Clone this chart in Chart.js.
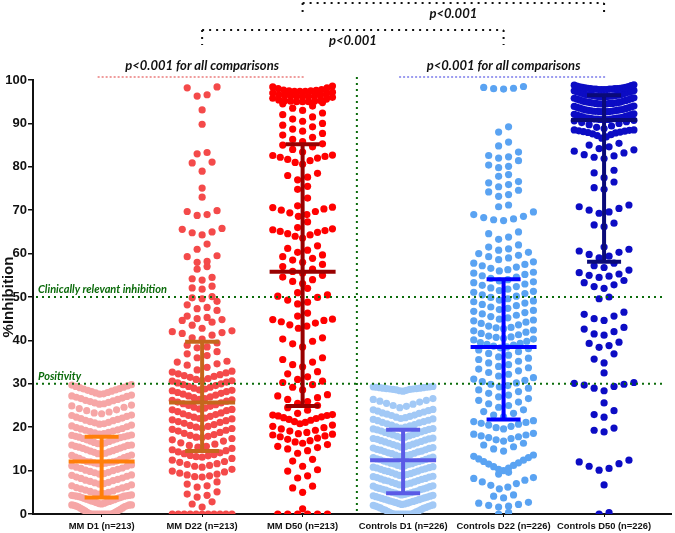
<!DOCTYPE html>
<html lang="en">
<head>
<meta charset="UTF-8" />
<title>%Inhibition by group</title>
<script src="https://cdn.jsdelivr.net/npm/chart.js"></script>
<style>
  html, body { margin: 0; padding: 0; background: #fff; }
  #chart { display: block; }
</style>
</head>
<body>
<canvas id="chart" width="675" height="533"></canvas>
<script>
const categories = [
  "MM D1 (n=213)", "MM D22 (n=213)", "MM D50 (n=213)",
  "Controls D1 (n=226)", "Controls D22 (n=226)", "Controls D50 (n=226)"
];
// median and interquartile range
const medians = [12.1, 25.7, 55.8, 12.4, 38.5, 90.8];
const q1 = [3.8, 14.5, 24.9, 4.8, 21.8, 58.1];
const q3 = [17.8, 39.7, 85.2, 19.4, 54.1, 96.5];

// each group: rows of the swarm, values in %inhibition
const mmD1 = [
  [0,0,0,0,0,0,0,0,0,0,0.1,0.2,0.4,0.5,0.7,0.8,1.0,1.1,1.3,1.4,1.6,1.7,1.8,1.9,2.0,2.1,2.1,2.1],
  [2.3,2.4,2.5,2.6,2.7,2.8,2.9,3.0,3.1,3.2,3.3,3.4,3.5,3.6,3.7,3.8,3.9,4.0,4.1,4.1,4.2,4.2,4.3,4.3,4.4],
  [4.6,4.7,4.9,5.0,5.2,5.3,5.5,5.7,5.8,6.0,6.1,6.3,6.5,6.7],
  [6.9,7.0,7.2,7.3,7.5,7.7,7.8,8.0,8.2,8.3,8.5,8.7,8.9,9.0],
  [9.2,9.3,9.5,9.6,9.8,10.0,10.1,10.3,10.5,10.6,10.8,11.0,11.1,11.3],
  [11.5,11.6,11.7,11.8,11.9,12.0,12.0,12.1,12.2,12.4,12.6,12.8,13.0,13.1,13.3,13.5,13.6],
  [13.8,13.9,14.0,14.2,14.3,14.5,14.6,14.8,14.9,15.1,15.2,15.4,15.5,15.6,15.8,15.9,15.9],
  [16.1,16.2,16.4,16.5,16.7,16.8,17.0,17.1,17.3,17.4,17.6,17.7,17.8,17.9,18.0,18.1,18.2],
  [18.4,18.5,18.7,18.8,19.0,19.1,19.3,19.4,19.6,19.7,19.9,20.1,20.3,20.5],
  [20.7,20.8,21.0,21.1,21.3,21.5,21.6,21.8,22.0,22.1,22.3,22.5,22.7,22.8],
  [23.1,23.3,23.5,23.8,24.0,24.3,24.6,24.9,25.1],
  [25.3,25.4,25.6,25.7,25.9,26.1,26.2,26.4,26.6,26.7,26.9,27.1,27.2,27.4],
  [27.6,27.7,27.9,28.0,28.2,28.3,28.5,28.6,28.8,28.9,29.1,29.2,29.4,29.5,29.7,29.8]
];
const mmD22 = [
  [0,0,0,0,0,0,0,0,0,0,0],
  [1.6,2.3,2.8],
  [3.9,4.3,4.6,5.1],
  [6.2,6.5,6.9,7.4],
  [8.5,8.6,8.8,9.0,9.2,9.4,9.7,9.9,10.3],
  [10.8,11.0,11.2,11.4,11.6,11.9,12.1,12.4,12.8],
  [13.1,13.2,13.4,13.5,13.7,13.9,14.1,14.3,14.6,14.8,15.1],
  [15.4,15.6,15.8,16.1,16.4,16.8,17.1,17.4],
  [17.6,17.7,17.9,18.1,18.3,18.6,18.8,19.1,19.3,19.5,19.7],
  [19.8,20.0,20.2,20.4,20.6,20.9,21.1,21.3,21.5,21.7,21.9],
  [22.0,22.1,22.3,22.5,22.7,22.9,23.1,23.3,23.6,23.8,24.0,24.1],
  [24.2,24.4,24.6,24.8,25.0,25.2,25.4,25.6,25.8,26.0,26.2,26.3],
  [26.4,26.6,26.8,27.0,27.2,27.4,27.6,27.8,28.0,28.2,28.4,28.5],
  [28.6,28.8,29.0,29.2,29.4,29.6,29.8,30.0,30.2,30.4,30.6,30.7],
  [30.8,31.0,31.2,31.5,31.7,31.9,32.1,32.3,32.5,32.7,32.9],
  [33.2,33.8,34.3,34.6,35.0,35.2],
  [36.0,36.5,36.9,37.4],
  [38.3,38.5,38.9,39.4],
  [40.3,40.6,41.2,41.6,41.8,42.0,42.2],
  [42.8,43.5,44.2,44.6,44.8],
  [45.0,45.3,45.6,46.9],
  [47.3,47.6,48.2,49.0],
  [49.6,49.8,50.1],
  [51.8,52.1,52.5],
  [53.9,54.2,54.5],
  [56.4,57.0],
  [58.0,58.2,59.3,59.5],
  [61.0,62.2],
  [64.3,64.8,65.0,65.6,65.8],
  [68.8,69.0,69.7,69.9],
  [73.0],
  [75.1],
  [79.0,80.9,81.1],
  [83.0,83.3],
  [89.8],
  [93.1],
  [96.3,96.6,98.2,98.4]
];
const mmD50 = [
  [0,0,0,0,0,0],
  [1.2],
  [5.0,6.0,6.4],
  [8.3,8.8,9.9,10.2],
  [11.0,12.2,12.6],
  [14.0,14.6,15.0,15.3,15.6,16.0],
  [16.3,16.6,16.9,17.2,17.5,17.8,18.0,18.2,18.4],
  [18.5,18.8,19.1,19.3,19.6,19.9,20.2,20.5],
  [20.8,21.1,21.3,21.6,21.8,22.0,22.2,22.4,22.6,22.7,22.8,22.9],
  [23.2,23.9,24.5,25.0],
  [25.5,25.9,26.4,26.8,27.2,27.5],
  [28.6,29.2,29.8,30.3,30.6],
  [31.0,31.6,32.3,32.8],
  [33.9,34.4,35.0,35.6,36.0],
  [38.5,39.2,39.8,40.3,40.6],
  [42.8,43.3,43.6,44.0,44.3,44.6,44.8,44.9],
  [45.6,46.3],
  [48.4,48.8,49.3,49.9,50.2,50.5],
  [51.0,52.0],
  [53.1,53.6,54.0,54.6,55.0],
  [55.5,55.9,56.4,57.0,57.5],
  [58.0,58.5,58.9,59.3,59.7],
  [60.3,60.8,61.2,61.8],
  [63.6,64.0,64.3,64.6,64.9,65.1,65.3,65.5,65.7],
  [66.0,67.3],
  [68.6,69.0,69.4,69.7,70.0,70.3,70.6,70.7],
  [71.0,72.8],
  [74.8,75.5],
  [77.0,77.6,78.0,78.5],
  [80.6,81.0,81.4,81.7,82.0,82.2,82.4,82.6,82.7],
  [83.4,84.0,84.6,85.0,85.3],
  [85.8,86.3,86.8,87.3,87.7],
  [88.2,88.7,89.2,89.6,90.0],
  [90.5,91.0,91.5,92.0,92.4],
  [93.0,93.5,94.0,94.5,94.8],
  [95.0,95.0,95.0,95.1,95.1,95.2,95.3,95.4,95.6,95.8,96.0],
  [96.2,96.2,96.2,96.3,96.3,96.4,96.5,96.6,96.8,97.0,97.2],
  [97.4,97.4,97.4,97.5,97.5,97.6,97.7,97.8,98.0,98.2,98.4,98.6]
];
const ctD1 = [
  [0,0,0,0,0,0,0,0,0.1,0.2,0.3,0.5,0.6,0.7,0.9,1.0,1.1,1.3,1.4,1.5,1.6,1.7,1.8,1.9,2.0,2.1],
  [2.2,2.3,2.4,2.5,2.6,2.7,2.8,2.9,3.0,3.1,3.2,3.3,3.4,3.5,3.6,3.7,3.8,3.9,4.0,4.1,4.2,4.3],
  [4.4,4.5,4.6,4.7,4.8,4.9,5.0,5.1,5.2,5.3,5.5,5.6,5.7,5.8,5.9,6.0,6.1,6.3,6.4,6.5],
  [6.6,6.7,6.9,7.0,7.1,7.3,7.4,7.6,7.7,7.8,8.0,8.1,8.2,8.4,8.5,8.6,8.7],
  [8.8,8.9,9.1,9.2,9.3,9.5,9.6,9.8,9.9,10.0,10.2,10.3,10.4,10.6,10.7,10.8,10.9],
  [11.0,11.1,11.2,11.4,11.5,11.6,11.7,11.9,12.0,12.1,12.2,12.3,12.5,12.6,12.7,12.9,13.0,13.1],
  [13.2,13.3,13.5,13.6,13.7,13.9,14.0,14.1,14.3,14.4,14.5,14.7,14.8,14.9,15.1,15.2,15.3],
  [15.4,15.5,15.7,15.8,16.0,16.1,16.3,16.4,16.6,16.7,16.9,17.0,17.2,17.3,17.4,17.5],
  [17.6,17.7,17.9,18.0,18.2,18.3,18.5,18.6,18.8,18.9,19.1,19.2,19.4,19.5,19.6,19.7],
  [19.8,20.0,20.1,20.3,20.5,20.6,20.8,21.0,21.1,21.3,21.5,21.6,21.8,21.9],
  [22.0,22.2,22.3,22.5,22.7,22.8,23.0,23.2,23.3,23.5,23.7,23.8,24.0,24.1],
  [24.5,24.8,25.0,25.3,25.5,25.8,26.0,26.2,26.4,26.6],
  [28.3,28.4,28.5,28.6,28.7,28.7,28.8,28.8,28.9,28.9,29.0,29.0,29.1,29.1,29.2,29.2,29.3,29.3,29.4]
];
const ctD22 = [
  [0,0.4],
  [1.6,1.8,2.0,2.2,2.5,2.7],
  [3.7,4.1,4.4],
  [5.8,6.2,6.6,7.0,7.4,7.8,8.2,8.4],
  [9.2,9.6],
  [10.0,10.3,10.6,10.9,11.2,11.5,11.8,12.1,12.4,12.7,13.0,13.3,13.6],
  [14.5,15.0,15.5,15.9,16.3],
  [16.8,17.1,17.4,17.6,17.8,18.0,18.2,18.4,18.6],
  [19.6,19.9,20.2,20.5,20.7,20.9,21.1,21.3,21.5],
  [22.4,22.8,23.2,23.6,24.0],
  [24.6,25.0,25.4,25.8,26.2,26.6],
  [27.0,27.4,27.8,28.2,28.6,29.0],
  [29.3,29.6,29.9,30.2,30.5,30.8,31.1,31.4],
  [31.8,32.2,32.6,33.0,33.4,33.7],
  [34.0,34.4,34.8,35.2,35.6,35.9],
  [36.2,36.6,37.0,37.4,37.8,38.1],
  [38.3,38.5,38.7,38.9,39.1,39.3,39.5,39.8,40.1,40.3],
  [40.5,40.7,40.8,41.0,41.3,41.6,41.9,42.2,42.4],
  [42.7,42.9,43.0,43.3,43.6,43.9,44.2,44.5,44.7],
  [44.9,45.2,45.5,45.8,46.1,46.4,46.7,46.9],
  [47.1,47.4,47.7,48.0,48.3,48.6,48.9,49.1],
  [49.3,49.6,49.9,50.2,50.5,50.8,51.1,51.3],
  [51.5,51.8,52.1,52.4,52.7,53.0,53.3,53.5],
  [53.7,54.0,54.3,54.6,54.9,55.2,55.5,55.7],
  [56.0,56.3,56.6,56.9,57.2,57.5,57.8,58.1],
  [58.6,59.0,59.3,59.6,60.0,60.3],
  [60.8,61.1,61.5,62.0],
  [63.3,63.8,64.6,65.0],
  [67.6,67.8,68.0,68.3,68.6,69.0,69.6],
  [70.8,71.2],
  [73.2,73.6,74.2,74.6],
  [75.4,75.9,76.3,76.6],
  [77.8,78.2],
  [79.8,80.1,80.4,81.4],
  [82.0,82.3,82.6,83.4],
  [84.8,85.7],
  [88.0,89.2],
  [97.9,98.0,98.1,98.3,98.5]
];
const ctD50 = [
  [0,0.3],
  [6.7],
  [10.1,10.5,11.0,11.6,12.0,12.4],
  [18.9,19.3,19.8],
  [22.3,22.9,23.8],
  [25.6],
  [28.4,29.0,29.4,29.7,29.9,30.1,30.3],
  [32.5],
  [34.8,35.7,36.9],
  [38.4,38.8,39.3,39.6],
  [41.2,41.5,42.0,42.6,43.0],
  [44.6,45.0,45.6,46.0,46.5],
  [49.6,50.0],
  [52.0,52.4,52.8,53.3,53.8],
  [54.5,54.8,55.0,55.3,55.6,56.2],
  [56.8,57.2,57.8],
  [59.0,59.4,59.8,60.3,60.6,61.0],
  [61.5],
  [66.2,66.6,67.0],
  [69.3,69.6,70.0,70.4,70.8,71.2],
  [74.8,75.2,76.5],
  [77.5,78.6,79.2],
  [81.9,82.2,82.5,82.8,83.2,83.6,83.9],
  [84.2,84.6,85.0,85.4],
  [86.6,86.9,87.2,87.4,87.6,87.8,87.9,88.0,88.1,88.2,88.3,88.4,88.5,88.5],
  [88.8,89.1,89.4,89.7,90.0,90.2,90.4,90.6,90.7],
  [90.9,90.9,90.9,90.9,91.0,91.0,91.0,91.1,91.1,91.2,91.2,91.3,91.3,91.4,91.5,91.6,91.7,91.8,91.9,92.0,92.1,92.2],
  [92.7,92.7,92.7,92.7,92.8,92.8,92.8,92.9,92.9,93.0,93.0,93.1,93.1,93.2,93.3,93.4,93.5,93.6,93.7,93.8,93.9,94.0],
  [94.5,94.5,94.5,94.5,94.6,94.6,94.6,94.7,94.7,94.8,94.8,94.9,94.9,95.0,95.1,95.2,95.3,95.4,95.5,95.6,95.7,95.8,95.9],
  [96.2,96.2,96.2,96.2,96.3,96.3,96.3,96.4,96.4,96.5,96.5,96.6,96.6,96.7,96.8,96.9,97.0,97.1,97.2,97.3,97.4,97.5,97.6],
  [97.8,97.8,97.8,97.8,97.9,97.9,97.9,97.9,98.0,98.0,98.0,98.1,98.1,98.2,98.2,98.3,98.3,98.4,98.5,98.6,98.7,98.8,98.9]
];
const groups = [mmD1, mmD22, mmD50, ctD1, ctD22, ctD50];

const dotColors = ["#f6a6a6", "#f44a4a", "#ff0000", "#a2c9f6", "#5aa3f2", "#0c0cc4"];
const barColors = ["#ff7f0a", "#c5671c", "#990000", "#5a5ae6", "#0000ff", "#0a0a78"];
const green = "#0b6b0b";
const sans = '"Liberation Sans", Arial, sans-serif';
const note = 'Lato, "Open Sans", sans-serif';

// lay one swarm out: each row spread sideways, lowest value in the middle
function swarm(rows, centre, pxPerUnit) {
  const pts = [];
  rows.forEach((row) => {
    const vals = row.slice().sort((a, b) => a - b);
    const k = vals.length;
    const step = k > 1 ? Math.min(10, 60 / (k - 1)) : 0;
    const slots = [];
    for (let j = 0; j < k; j++) slots.push((j - (k - 1) / 2) * step);
    slots.sort((a, b) => Math.abs(a) - Math.abs(b) || a - b);
    vals.forEach((v, i) => pts.push({ x: centre + slots[i] / pxPerUnit, y: v }));
  });
  return pts;
}

function seg(ctx, x1, y1, x2, y2) {
  ctx.beginPath();
  ctx.moveTo(x1, y1);
  ctx.lineTo(x2, y2);
  ctx.stroke();
}

const overlay = {
  id: "overlay",
  afterDatasetsDraw(chart) {
    const { ctx, chartArea: a, scales: { x, y } } = chart;
    ctx.save();
    // threshold lines and group divider
    ctx.strokeStyle = green;
    ctx.lineWidth = 2;
    ctx.setLineDash([2, 4]);
    [50, 30].forEach((v) => seg(ctx, a.left + 3, y.getPixelForValue(v), a.right - 8, y.getPixelForValue(v)));
    const vx = x.getPixelForValue(3.54);
    seg(ctx, vx, a.top - 3, vx, a.bottom);
    ctx.setLineDash([]);
    ctx.fillStyle = green;
    ctx.font = "italic bold 11px " + note;
    ctx.textBaseline = "alphabetic";
    ctx.fillText("Clinically relevant inhibition", a.left + 5, y.getPixelForValue(50) - 4);
    ctx.fillText("Positivity", a.left + 5, y.getPixelForValue(30) - 4);

    // median with interquartile range
    ctx.lineWidth = 4;
    medians.forEach((m, i) => {
      const cx = x.getPixelForValue(i + 1);
      const ym = y.getPixelForValue(m);
      const ylo = y.getPixelForValue(q1[i]);
      const yhi = y.getPixelForValue(q3[i]);
      ctx.strokeStyle = barColors[i];
      seg(ctx, cx, ylo, cx, yhi);
      seg(ctx, cx - 17, ylo, cx + 17, ylo);
      seg(ctx, cx - 17, yhi, cx + 17, yhi);
      seg(ctx, cx - 33, ym, cx + 33, ym);
    });
    ctx.restore();
  },
  afterDraw(chart) {
    const { ctx, scales: { x } } = chart;
    const px = (i) => x.getPixelForValue(i);
    ctx.save();
    ctx.textAlign = "center";
    ctx.textBaseline = "middle";
    ctx.font = "italic bold 13px " + note;
    ctx.fillStyle = "#111";

    // brackets between the two cohorts
    ctx.strokeStyle = "#111";
    ctx.lineWidth = 2;
    ctx.setLineDash([2, 5]);
    [[3, 6, 3, 15], [2, 5, 30, 45]].forEach(([a, b, top, foot]) => {
      seg(ctx, px(a), top, px(b), top);
      seg(ctx, px(a), top, px(a), foot);
      seg(ctx, px(b), top, px(b), foot);
      ctx.fillText("p<0.001", (px(a) + px(b)) / 2, top + 11);
    });

    // within-cohort notes
    [[1, 3, "#e03a3a"], [4, 6, "#3a3ae0"]].forEach(([a, b, col]) => {
      ctx.fillStyle = "#111";
      ctx.fillText("p<0.001 for all comparisons", px(a + 1), 66);
      ctx.strokeStyle = col;
      ctx.lineWidth = 1;
      ctx.setLineDash([2, 2]);
      seg(ctx, px(a) - 4, 77, px(b) + 2, 77);
    });
    ctx.restore();
  }
};

const chart = new Chart(document.getElementById("chart"), {
  type: "scatter",
  data: {
    datasets: categories.map((c, i) => ({
      label: c,
      data: [],
      backgroundColor: dotColors[i],
      borderWidth: 0,
      pointRadius: 3.6,
      pointHoverRadius: 3.6
    }))
  },
  options: {
    responsive: false,
    animation: false,
    layout: { padding: { top: 80, right: 0, bottom: 0, left: 0 } },
    plugins: { legend: { display: false }, tooltip: { enabled: false } },
    scales: {
      x: {
        type: "linear",
        min: 0.317,
        max: 6.67,
        afterBuildTicks: (s) => { s.ticks = categories.map((c, i) => ({ value: i + 1 })); },
        afterFit: (s) => { s.height = 19; },
        ticks: {
          autoSkip: false,
          maxRotation: 0,
          padding: 4,
          color: "#111",
          font: { family: sans, size: 9.4, weight: "bold" },
          callback: (v) => categories[Math.round(v) - 1]
        },
        grid: { drawOnChartArea: false, tickLength: 3, color: "#111" },
        border: { color: "#111", width: 2 }
      },
      y: {
        min: 0,
        max: 100,
        afterFit: (s) => { s.width = 33; },
        ticks: {
          stepSize: 10,
          padding: 1,
          color: "#111",
          font: { family: sans, size: 13, weight: "bold" }
        },
        grid: { drawOnChartArea: false, tickLength: 5, color: "#111", lineWidth: 1.5 },
        border: { color: "#111", width: 2 },
        title: {
          display: true,
          text: "%Inhibition",
          color: "#111",
          padding: 0,
          font: { family: sans, size: 15, weight: "bold" }
        }
      }
    }
  },
  plugins: [overlay]
});

// place the dots now that the x scale knows its pixel width
const xs = chart.scales.x;
const pxPerUnit = xs.width / (xs.max - xs.min);
groups.forEach((rows, i) => {
  chart.data.datasets[i].data = swarm(rows, i + 1, pxPerUnit);
});
chart.update("none");
</script>
</body>
</html>
